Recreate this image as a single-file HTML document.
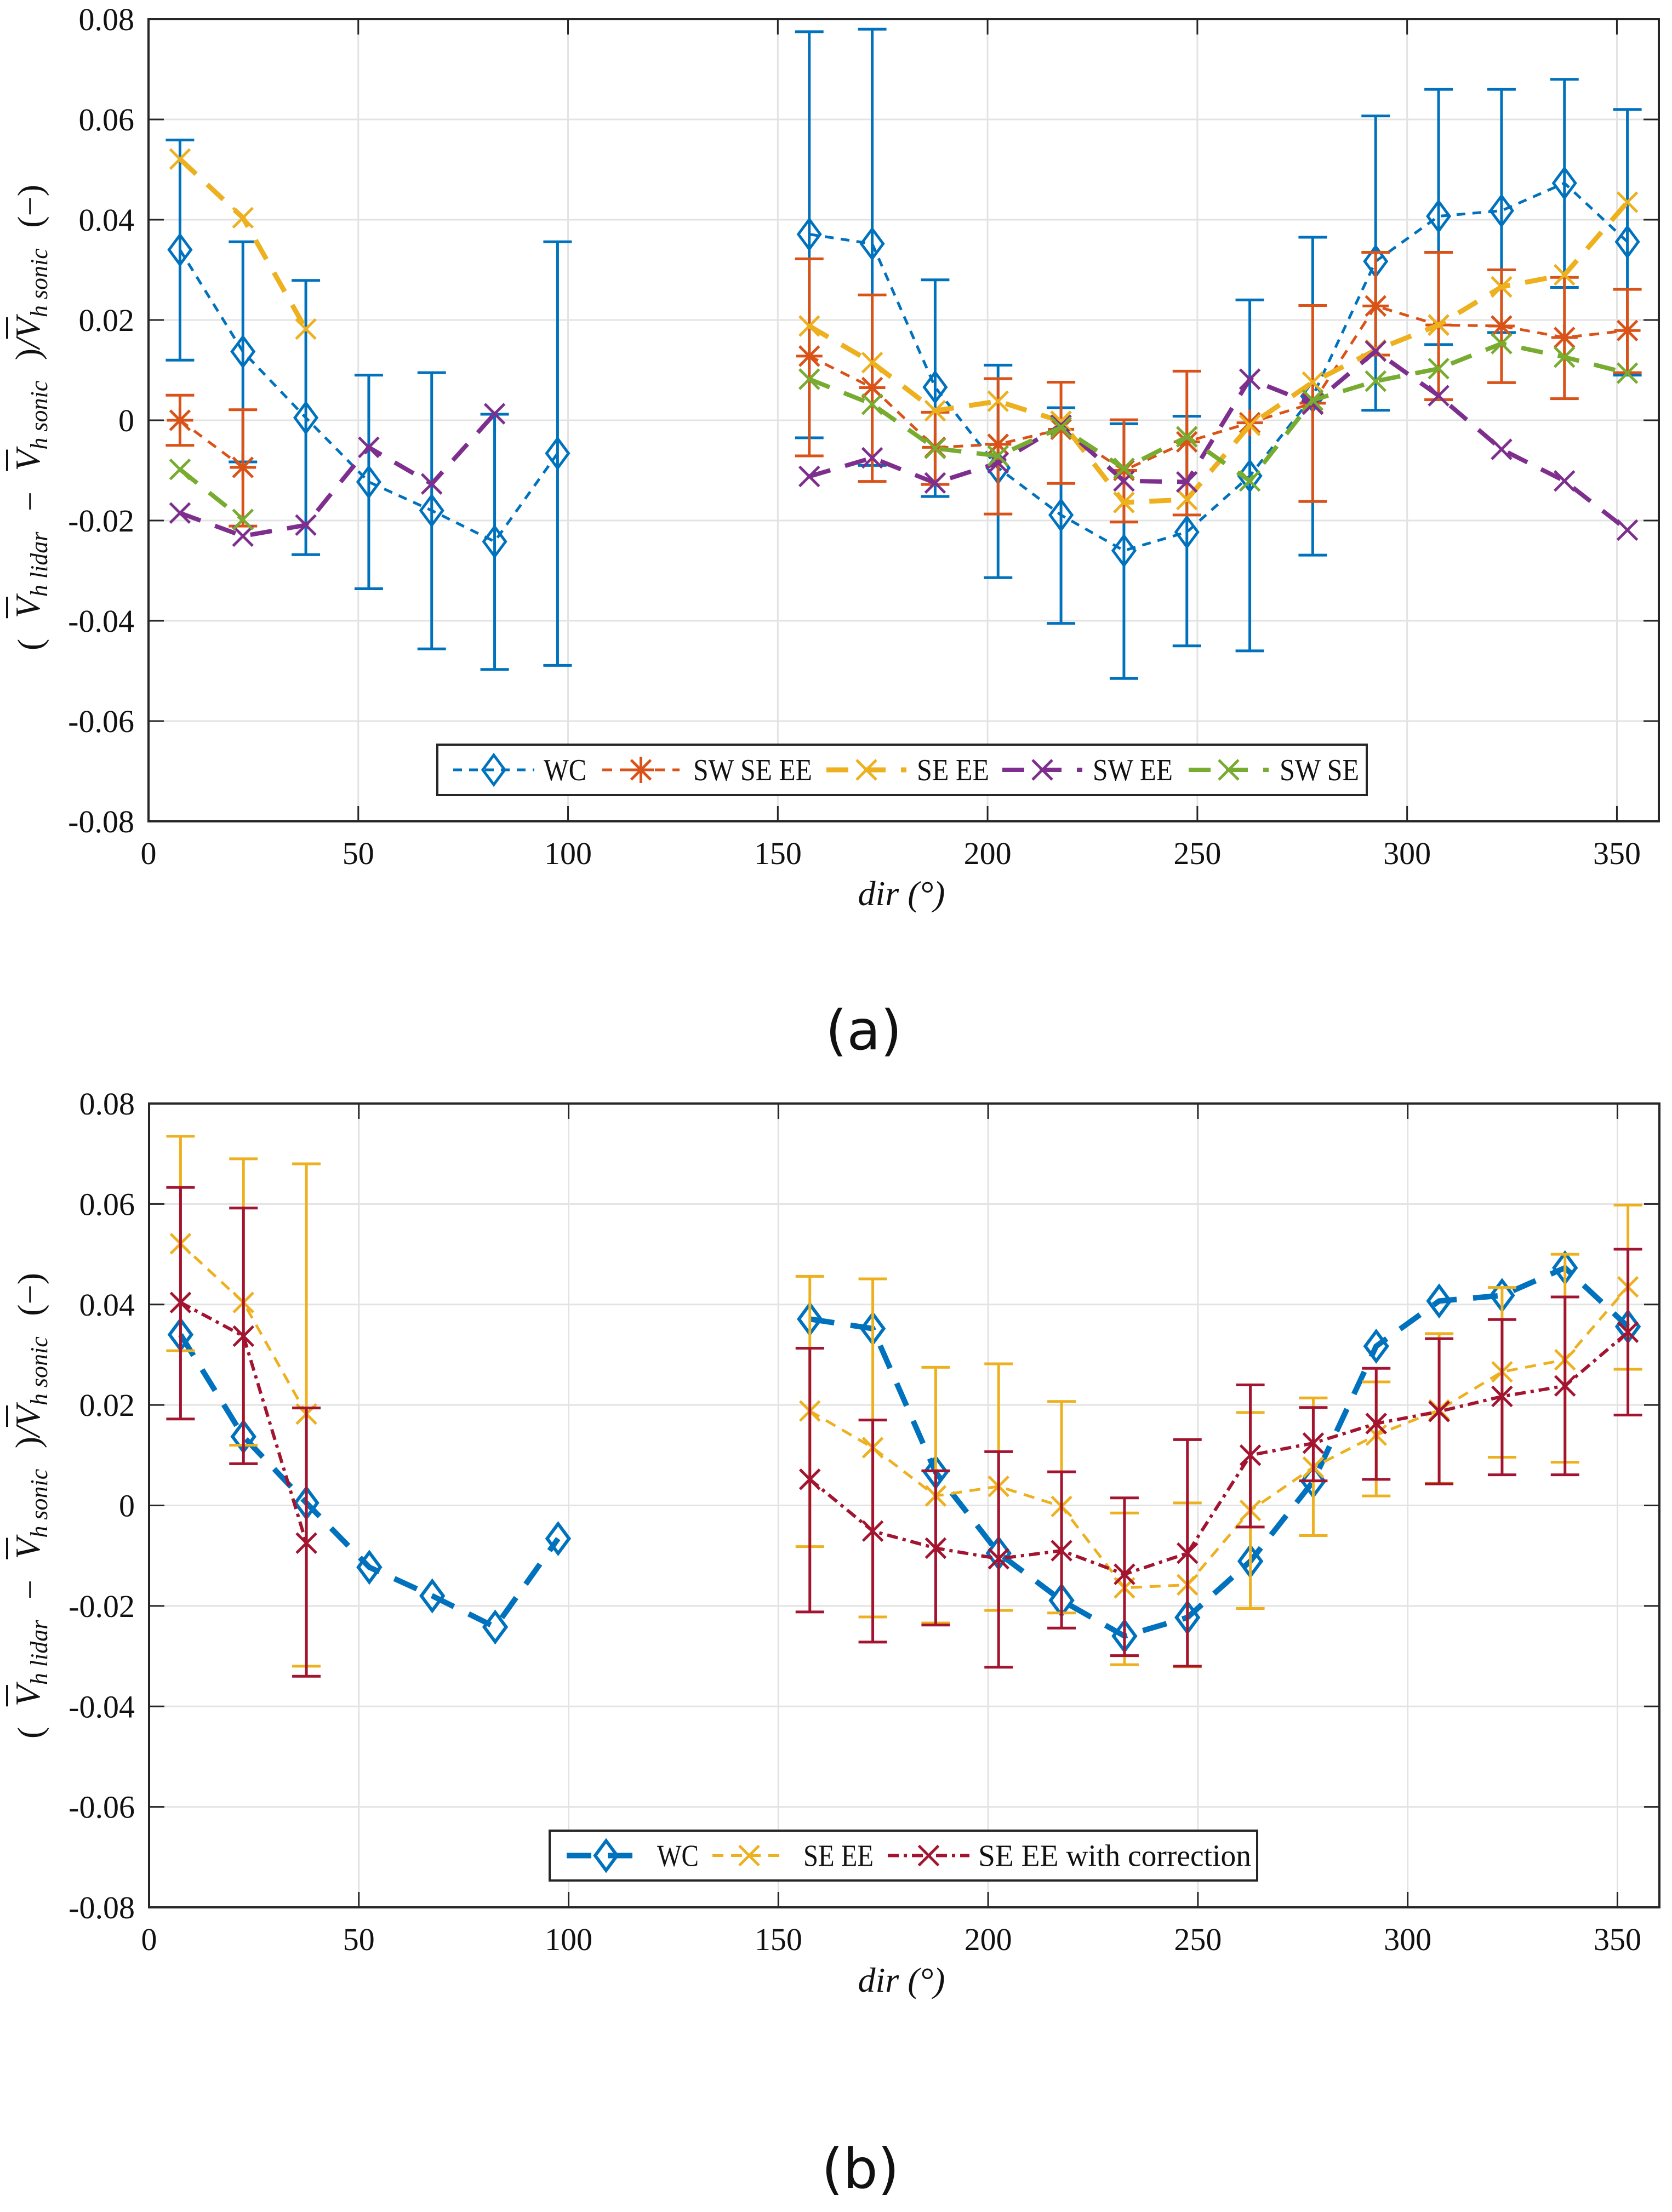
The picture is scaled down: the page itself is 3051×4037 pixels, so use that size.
<!DOCTYPE html>
<html><head><meta charset="utf-8">
<style>
html,body{margin:0;padding:0;background:#fff;}
#root{position:relative;width:3051px;height:4037px;overflow:hidden;background:#fff;}
.ylab{position:absolute;width:850px;height:90px;display:flex;justify-content:space-between;align-items:center;
font-family:"Liberation Serif",serif;font-style:italic;font-size:64px;color:#111;transform:rotate(-90deg);transform-origin:center center;white-space:nowrap;}
.ylab .ov{text-decoration:overline;text-decoration-thickness:4px;}
.ylab sub{font-size:44px;vertical-align:-14px;}
.ylab .up{font-style:normal;}
</style></head>
<body>
<div id="root">
<svg id="chart" width="3051" height="4037" viewBox="0 0 3051 4037" xmlns="http://www.w3.org/2000/svg" style="position:absolute;left:0;top:0"></svg>
<div class="ylab" style="left:-370px;top:717px">
<span class="up">(</span><span><span class="ov">V</span><sub>h lidar</sub></span><span class="up">−</span><span><span class="ov">V</span><sub>h sonic</sub></span><span><span class="up">)</span>/<span class="ov">V</span><sub>h sonic</sub></span><span class="up">(−)</span>
</div>
<div class="ylab" style="left:-370px;top:2703px">
<span class="up">(</span><span><span class="ov">V</span><sub>h lidar</sub></span><span class="up">−</span><span><span class="ov">V</span><sub>h sonic</sub></span><span><span class="up">)</span>/<span class="ov">V</span><sub>h sonic</sub></span><span class="up">(−)</span>
</div>
</div>
<script>
const n = null;
const dirs = [7.5,22.5,37.5,52.5,67.5,82.5,97.5,112.5,127.5,142.5,157.5,172.5,187.5,202.5,217.5,232.5,247.5,262.5,277.5,292.5,307.5,322.5,337.5,352.5];
const xTicks = [0,50,100,150,200,250,300,350];
const yTicks = [-0.08,-0.06,-0.04,-0.02,0,0.02,0.04,0.06,0.08];
const yTickLabels = ["-0.08","-0.06","-0.04","-0.02","0","0.02","0.04","0.06","0.08"];

const wc   = [0.034,0.0137,0.0005,-0.0123,-0.018,-0.0242,-0.0066,n,n,n,0.0371,0.0352,0.0066,-0.0095,-0.0189,-0.026,-0.0223,-0.0111,0.0048,0.0317,0.0407,0.0418,0.0473,0.0356];
const wcLo = [0.012,-0.0083,-0.0268,-0.0336,-0.0456,-0.0497,-0.0489,n,n,n,-0.0035,-0.009,-0.0152,-0.0314,-0.0405,-0.0515,-0.045,-0.046,-0.0269,0.002,0.0151,0.0175,0.0265,0.009];
const wcHi = [0.0559,0.0356,0.0279,0.009,0.0095,0.0012,0.0356,n,n,n,0.0775,0.078,0.028,0.011,0.0025,-0.0007,0.0008,0.024,0.0365,0.0607,0.066,0.066,0.068,0.062];

const swseee   = [0,-0.0094,n,n,n,n,n,n,n,n,0.0128,0.0065,-0.0054,-0.0048,-0.0018,-0.01,-0.0043,-0.0005,0.0034,0.0228,0.019,0.0188,0.0165,0.0179];
const swseeeLo = [-0.005,-0.0211,n,n,n,n,n,n,n,n,-0.0071,-0.0122,-0.0128,-0.0187,-0.0126,-0.0203,-0.0189,n,-0.0162,0.013,0.0041,0.0075,0.0043,0.0095];
const swseeeHi = [0.005,0.0021,n,n,n,n,n,n,n,n,0.0322,0.025,0.0016,0.0083,0.0076,0.0001,0.0098,n,0.0229,0.0335,0.0335,0.030,0.0285,0.0261];

const seee   = [0.0521,0.0404,0.0182,n,n,n,n,n,n,n,0.0188,0.0115,0.0019,0.0038,-0.0002,-0.0164,-0.0158,-0.001,0.0076,0.014,0.019,0.0266,0.029,0.0435];
const seeeLo = [0.0308,0.012,-0.032,n,n,n,n,n,n,n,-0.0082,-0.0222,-0.0234,-0.0209,-0.0214,-0.0317,-0.0321,-0.0205,-0.006,0.0019,0.0044,0.0096,0.0086,0.0271];
const seeeHi = [0.0735,0.069,0.068,n,n,n,n,n,n,n,0.0456,0.0451,0.0275,0.0282,0.0207,-0.0015,0.0005,0.0185,0.0214,0.0246,0.0342,0.0434,0.050,0.0598];

const swee = [-0.0185,-0.0231,-0.0209,-0.0054,-0.0127,0.0013,n,n,n,n,-0.0112,-0.0075,-0.0125,-0.0085,-0.001,-0.0121,-0.0123,0.0082,0.0032,0.0138,0.0049,-0.0058,-0.0121,-0.0219];
const swse = [-0.0098,-0.0198,n,n,n,n,n,n,n,n,0.0082,0.0032,-0.0056,-0.0071,-0.0014,-0.0096,-0.0033,-0.0121,0.004,0.0078,0.0103,0.0153,0.0126,0.0094];

const corr   = [0.0404,0.0337,-0.0075,n,n,n,n,n,n,n,0.0052,-0.0051,-0.0085,-0.0106,-0.009,-0.0137,-0.0095,0.010,0.0124,0.0163,0.0187,0.0217,0.0238,0.0345];
const corrLo = [0.0172,0.0083,-0.034,n,n,n,n,n,n,n,-0.0212,-0.0272,-0.0238,-0.0322,-0.0244,-0.0299,-0.032,-0.0043,0.0049,0.0052,0.0043,0.0061,0.0061,0.018];
const corrHi = [0.0633,0.0592,0.0194,n,n,n,n,n,n,n,0.0313,0.017,0.0069,0.0107,0.0067,0.0015,0.0131,0.024,0.0195,0.0273,0.0332,0.037,0.0415,0.051];

const svg = document.getElementById('chart');
const NS = 'http://www.w3.org/2000/svg';
function mk(tag, attrs, parent){
  const e = document.createElementNS(NS, tag);
  for (const k in attrs) e.setAttribute(k, attrs[k]);
  (parent || svg).appendChild(e);
  return e;
}
function axes(p){ return {
  x: d => p.x0 + d/360*(p.x1-p.x0),
  y: v => p.y1 - (v+0.08)/0.16*(p.y1-p.y0)
};}

function drawFrame(p, tag){
  const s = axes(p);
  const g = mk('g', {});
  
  
  xTicks.forEach(t => {
    if (t === 0) return;
    const l = mk('line', {x1:s.x(t), x2:s.x(t), y1:p.y0, y2:p.y1, stroke:'#e3e3e3', 'stroke-width':3}, g);
    
    
  });
  yTicks.forEach(t => {
    const l = mk('line', {x1:p.x0, x2:p.x1, y1:s.y(t), y2:s.y(t), stroke:'#e3e3e3', 'stroke-width':3}, g);
    
    
  });
  p.g = g;
  p.s = s;
}
function drawAxisTop(p, tag){
  const s = p.s;
  const g = mk('g', {});
  
  
  const box = mk('rect', {x:p.x0, y:p.y0, width:p.x1-p.x0, height:p.y1-p.y0, fill:'none', stroke:'#262626', 'stroke-width':4}, g);
  
  
  xTicks.forEach((t,i) => {
    const x = s.x(t);
    const tb = mk('line', {x1:x, x2:x, y1:p.y1, y2:p.y1-28, stroke:'#262626', 'stroke-width':3}, g);
    
    
    const tt = mk('line', {x1:x, x2:x, y1:p.y0, y2:p.y0+28, stroke:'#262626', 'stroke-width':3}, g);
    
    
    const lb = mk('text', {x:x, y:p.y1+78, 'text-anchor':'middle', 'font-family':'Liberation Serif, serif', 'font-size':58, fill:'#111'}, g);
    lb.textContent = String(t);
    
    
  });
  yTicks.forEach((t,i) => {
    const y = s.y(t);
    const tl = mk('line', {x1:p.x0, x2:p.x0+28, y1:y, y2:y, stroke:'#262626', 'stroke-width':3}, g);
    
    
    const tr = mk('line', {x1:p.x1, x2:p.x1-28, y1:y, y2:y, stroke:'#262626', 'stroke-width':3}, g);
    
    
    const lb = mk('text', {x:p.x0-26, y:y+20, 'text-anchor':'end', 'font-family':'Liberation Serif, serif', 'font-size':58, fill:'#111'}, g);
    lb.textContent = yTickLabels[i];
    
    
  });
}

function marker(g, type, cx, cy, color, sw){
  let e;
  if (type === 'diamond') {
    e = mk('path', {d:`M${cx} ${cy-27} L${cx+20} ${cy} L${cx} ${cy+27} L${cx-20} ${cy} Z`, fill:'none', stroke:color, 'stroke-width':sw}, g);
  } else if (type === 'x') {
    const r = 18;
    e = mk('path', {d:`M${cx-r} ${cy-r} L${cx+r} ${cy+r} M${cx-r} ${cy+r} L${cx+r} ${cy-r}`, fill:'none', stroke:color, 'stroke-width':sw}, g);
  } else {
    const r = 18, h = 24;
    e = mk('path', {d:`M${cx-r} ${cy-r} L${cx+r} ${cy+r} M${cx-r} ${cy+r} L${cx+r} ${cy-r} M${cx-h} ${cy} L${cx+h} ${cy} M${cx} ${cy-h} L${cx} ${cy+h}`, fill:'none', stroke:color, 'stroke-width':sw}, g);
  }
  
  
}

function series(p, name, vals, lo, hi, st){
  const s = p.s;
  const g = mk('g', {});
  
  
  if (lo) {
    dirs.forEach((d,i) => {
      if (lo[i] === null || hi[i] === null) return;
      const x = s.x(d), ya = s.y(lo[i]), yb = s.y(hi[i]);
      const eb = mk('path', {d:`M${x} ${ya} L${x} ${yb} M${x-26} ${ya} L${x+26} ${ya} M${x-26} ${yb} L${x+26} ${yb}`, fill:'none', stroke:st.color, 'stroke-width':st.ew}, g);
      
      
    });
  }
  let seg = [];
  const segs = [];
  dirs.forEach((d,i) => {
    if (vals[i] === null) { if (seg.length) segs.push(seg); seg = []; }
    else seg.push([s.x(d), s.y(vals[i])]);
  });
  if (seg.length) segs.push(seg);
  segs.forEach(sg => {
    const pl = mk('polyline', {points: sg.map(q => q.join(',')).join(' '), fill:'none', stroke:st.color, 'stroke-width':st.lw, 'stroke-dasharray':st.dash}, g);
    
    
  });
  dirs.forEach((d,i) => {
    if (vals[i] === null) return;
    marker(g, st.marker, s.x(d), s.y(vals[i]), st.color, st.mw);
  });
}

function legend(box, entries, tag){
  const g = mk('g', {});
  
  
  const r = mk('rect', {x:box.x0, y:box.y0, width:box.x1-box.x0, height:box.y1-box.y0, fill:'#fff', stroke:'#262626', 'stroke-width':4}, g);
  
  
  const cy = (box.y0+box.y1)/2;
  entries.forEach(e => {
    const eg = mk('g', {}, g);
    
    
    const l = mk('line', {x1:e.l0, x2:e.l1, y1:cy, y2:cy, stroke:e.st.color, 'stroke-width':e.st.lw, 'stroke-dasharray':e.st.dash}, eg);
    
    
    marker(eg, e.st.marker, (e.l0+e.l1)/2, cy, e.st.color, e.st.mw);
    const t = mk('text', {x:e.t0, y:cy+19, 'font-family':'Liberation Serif, serif', 'font-size':56, fill:'#111', textLength:e.t1-e.t0, lengthAdjust:'spacingAndGlyphs'}, eg);
    t.textContent = e.label;
    
    
  });
}

function text(x, y, str, size, style, family, name){
  const t = mk('text', {x:x, y:y, 'text-anchor':'middle', 'font-family':family, 'font-size':size, 'font-style':style, fill:'#111'});
  t.textContent = str;
  
  
}

const C = {blue:'#0072BD', red:'#D95319', yel:'#EDB120', pur:'#7E2F8E', grn:'#77AC30', dred:'#A2142F'};
const stA = {
  wc:{color:C.blue, lw:5, dash:'16 13', marker:'diamond', mw:5, ew:5},
  swseee:{color:C.red, lw:5, dash:'18 14', marker:'star', mw:5, ew:5},
  seee:{color:C.yel, lw:9, dash:'40 28', marker:'x', mw:5, ew:5},
  swee:{color:C.pur, lw:8, dash:'40 28', marker:'x', mw:5, ew:5},
  swse:{color:C.grn, lw:8, dash:'40 28', marker:'x', mw:5, ew:5}
};
const stB = {
  wc:{color:C.blue, lw:10, dash:'45 30', marker:'diamond', mw:6, ew:5},
  seee:{color:C.yel, lw:5, dash:'20 14', marker:'x', mw:5, ew:5},
  corr:{color:C.dred, lw:6, dash:'20 9 6 9', marker:'x', mw:5, ew:5}
};

// Panel (a)
const pA = {x0:271, x1:3027, y0:35, y1:1499};
drawFrame(pA, 'a');
series(pA, 'wc', wc, wcLo, wcHi, stA.wc);
series(pA, 'sw-se-ee', swseee, swseeeLo, swseeeHi, stA.swseee);
series(pA, 'se-ee', seee, null, null, stA.seee);
series(pA, 'sw-ee', swee, null, null, stA.swee);
series(pA, 'sw-se', swse, null, null, stA.swse);
drawAxisTop(pA, 'a');
legend({x0:798, x1:2494, y0:1359, y1:1451}, [
  {label:'WC', st:stA.wc, l0:827, l1:975, t0:992, t1:1070},
  {label:'SW SE EE', st:stA.swseee, l0:1099, l1:1240, t0:1265, t1:1482},
  {label:'SE EE', st:stA.seee, l0:1508, l1:1654, t0:1673, t1:1805},
  {label:'SW EE', st:stA.swee, l0:1829, l1:1975, t0:1994, t1:2140},
  {label:'SW SE', st:stA.swse, l0:2169, l1:2315, t0:2335, t1:2480}
], 'a');
text(1645, 1652, 'dir (°)', 64, 'italic', 'Liberation Serif, serif', 'x-axis-title-a');
text(1576, 1915, '(a)', 100, 'normal', 'DejaVu Sans, sans-serif', 'panel-label-a');

// Panel (b)
const pB = {x0:272, x1:3028, y0:2014, y1:3481};
drawFrame(pB, 'b');
series(pB, 'wc', wc, null, null, stB.wc);
series(pB, 'se-ee', seee, seeeLo, seeeHi, stB.seee);
series(pB, 'se-ee-correction', corr, corrLo, corrHi, stB.corr);
drawAxisTop(pB, 'b');
legend({x0:1003, x1:2294, y0:3341, y1:3432}, [
  {label:'WC', st:stB.wc, l0:1034, l1:1178, t0:1199, t1:1275},
  {label:'SE EE', st:stB.seee, l0:1300, l1:1434, t0:1466, t1:1594},
  {label:'SE EE with correction', st:stB.corr, l0:1620, l1:1769, t0:1785, t1:2283}
], 'b');
text(1645, 3635, 'dir (°)', 64, 'italic', 'Liberation Serif, serif', 'x-axis-title-b');
text(1570, 3993, '(b)', 100, 'normal', 'DejaVu Sans, sans-serif', 'panel-label-b');
</script>
</body></html>
